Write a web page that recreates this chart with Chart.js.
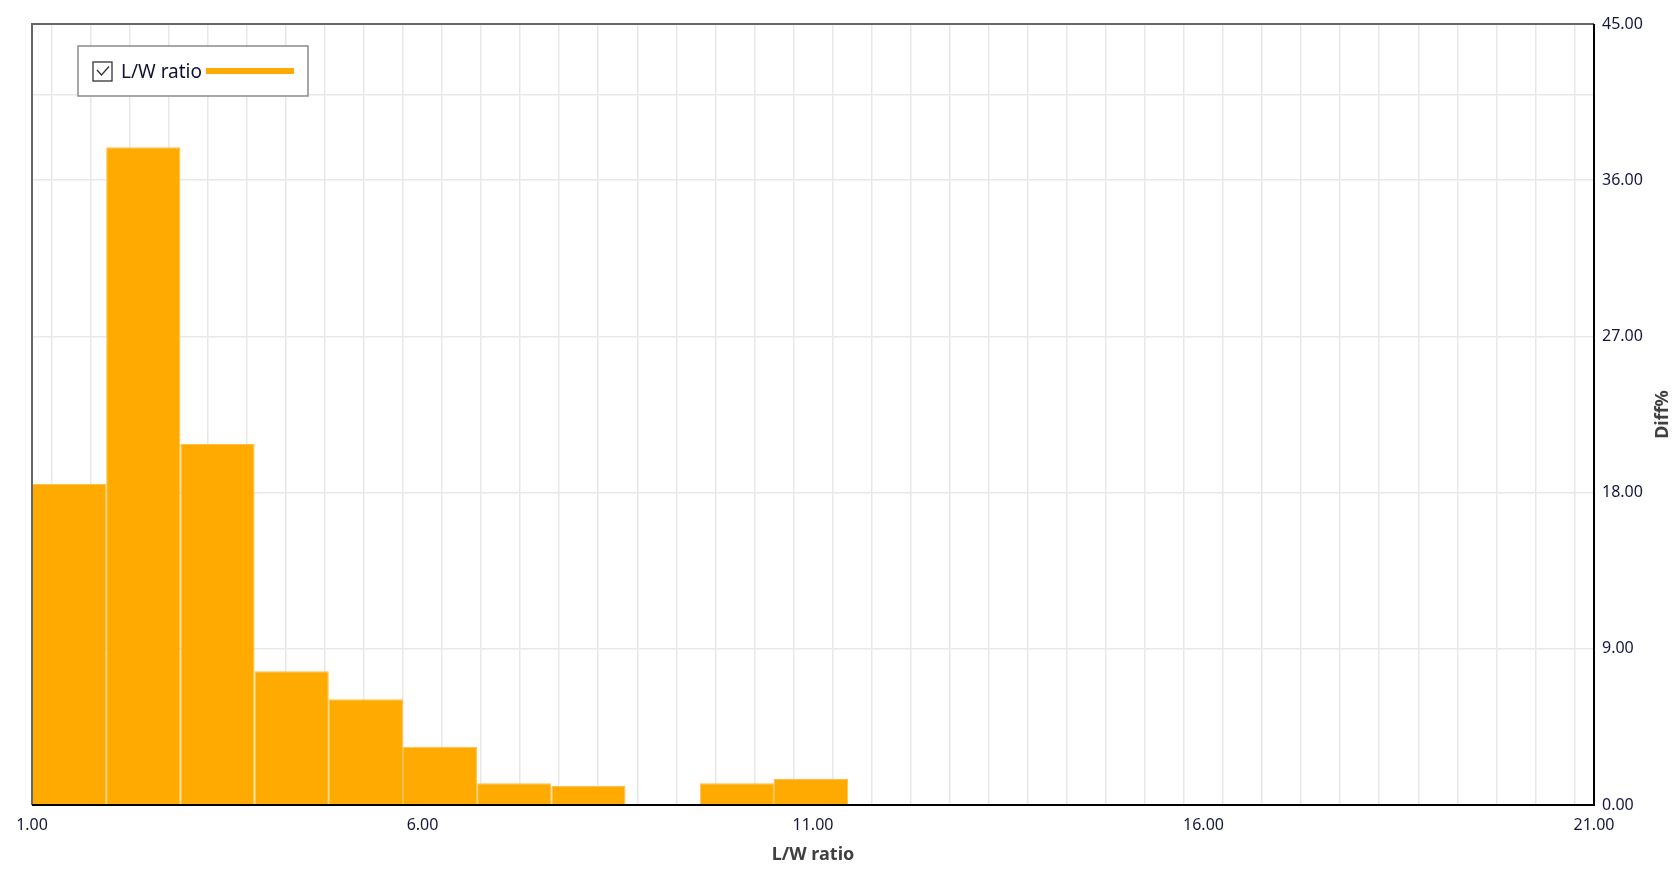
<!DOCTYPE html>
<html>
<head>
<meta charset="utf-8">
<script src="https://cdn.jsdelivr.net/npm/chart.js@4.4.1/dist/chart.umd.min.js"></script>
<style>
  html, body { margin: 0; padding: 0; background: #fff; }
  #wrap { width: 1680px; height: 872px; }
</style>
</head>
<body>
<div id="wrap"><canvas id="myChart" width="1680" height="872"></canvas></div>
<script>
// bin centres (L/W ratio), bins are 0.95 wide
var binCenters = [1.475, 2.425, 3.375, 4.325, 5.275, 6.225, 7.175, 8.125, 9.075, 10.025, 10.975];
var diffValues = [18.5, 37.9, 20.8, 7.7, 6.1, 3.35, 1.25, 1.1, 0, 1.25, 1.5];
var binWidth = 0.95;
var xGridStep = 0.5;
var xMajorTicks = [1, 6, 11, 16, 21];
var yTicks = [0, 9, 18, 27, 36, 45];
var yExtraGrid = 40.9;

var barColor = '#FFAA00';
var tickColor = '#16163f';
var fontFamily = '"Noto Sans", "Open Sans", sans-serif';

var points = binCenters.map(function (c, i) {
    return { x: c, y: diffValues[i] };
});

var framePlugin = {
    id: 'frame',
    afterDatasetsDraw: function (chart) {
        var ctx = chart.ctx;
        var a = chart.chartArea;
        ctx.save();
        // top and left lines
        ctx.strokeStyle = '#666666';
        ctx.lineWidth = 2;
        ctx.beginPath();
        ctx.moveTo(a.left, a.bottom);
        ctx.lineTo(a.left, a.top);
        ctx.lineTo(a.right, a.top);
        ctx.stroke();
        // right and bottom axes
        ctx.strokeStyle = '#000000';
        ctx.beginPath();
        ctx.moveTo(a.right, a.top);
        ctx.lineTo(a.right, a.bottom);
        ctx.lineTo(a.left, a.bottom);
        ctx.stroke();

        // legend box
        var lx = a.left + 46, ly = a.top + 22;
        ctx.fillStyle = '#ffffff';
        ctx.fillRect(lx, ly, 230, 50);
        ctx.strokeStyle = '#8a8a8a';
        ctx.lineWidth = 1.5;
        ctx.strokeRect(lx, ly, 230, 50);
        // checkbox
        ctx.strokeStyle = '#333333';
        ctx.lineWidth = 1.3;
        ctx.strokeRect(lx + 15, ly + 16, 19, 19);
        ctx.beginPath();
        ctx.moveTo(lx + 19, ly + 24);
        ctx.lineTo(lx + 23.5, ly + 29);
        ctx.lineTo(lx + 31, ly + 20.5);
        ctx.stroke();
        // text
        ctx.fillStyle = '#111133';
        ctx.font = '19px ' + fontFamily;
        ctx.textBaseline = 'middle';
        ctx.textAlign = 'left';
        ctx.fillText('L/W ratio', lx + 43, ly + 27);
        // line sample
        ctx.strokeStyle = barColor;
        ctx.lineWidth = 6;
        ctx.beginPath();
        ctx.moveTo(lx + 128, ly + 25);
        ctx.lineTo(lx + 216, ly + 25);
        ctx.stroke();

        // right axis title, reading bottom to top
        ctx.save();
        ctx.translate(a.right + 69, (a.top + a.bottom) / 2);
        ctx.rotate(-Math.PI / 2);
        ctx.fillStyle = '#404040';
        ctx.font = 'bold 18px ' + fontFamily;
        ctx.textAlign = 'center';
        ctx.textBaseline = 'middle';
        ctx.fillText('Diff%', 0, 0);
        ctx.restore();

        ctx.restore();
    }
};

var ctx = document.getElementById('myChart').getContext('2d');
var config = {
    type: 'bar',
    data: {
        datasets: [{
            label: 'L/W ratio',
            data: points,
            backgroundColor: barColor,
            borderColor: 'rgb(255, 192, 70)',
            borderWidth: 1,
            categoryPercentage: 1,
            // bar width is based on the grid step, so scale it up to the bin width
            barPercentage: binWidth / xGridStep
        }]
    },
    options: {
        responsive: false,
        animation: false,
        layout: { padding: { top: 24, left: 32, right: 0, bottom: 0 } },
        plugins: {
            legend: { display: false },
            tooltip: { enabled: false }
        },
        scales: {
            x: {
                type: 'linear',
                offset: false,
                min: 1,
                max: 21,
                grid: { color: '#e8e8e8', lineWidth: 1.5, drawTicks: false },
                border: { display: false },
                ticks: {
                    stepSize: xGridStep,
                    autoSkip: false,
                    maxRotation: 0,
                    padding: 11,
                    color: tickColor,
                    font: { family: fontFamily, size: 16 },
                    callback: function (v) {
                        return xMajorTicks.indexOf(v) >= 0 ? v.toFixed(2) : '';
                    }
                },
                title: {
                    display: true,
                    text: 'L/W ratio',
                    color: '#404040',
                    font: { family: fontFamily, size: 18, weight: 'bold' },
                    padding: { top: 4, bottom: 6 }
                },
                afterFit: function (scale) { scale.height = 67; }
            },
            y: {
                position: 'right',
                min: 0,
                max: 45,
                grid: { color: '#e8e8e8', lineWidth: 1.5, drawTicks: false },
                border: { display: false },
                ticks: {
                    padding: 8,
                    color: tickColor,
                    font: { family: fontFamily, size: 16 },
                    callback: function (v) {
                        return yTicks.indexOf(v) >= 0 ? v.toFixed(2) : '';
                    }
                },
                afterBuildTicks: function (scale) {
                    scale.ticks = yTicks.concat([yExtraGrid]).sort(function (p, q) { return p - q; })
                        .map(function (v) { return { value: v }; });
                },
                afterFit: function (scale) { scale.width = 86; }
            }
        }
    },
    plugins: [framePlugin]
};

var chart = new Chart(ctx, config);
</script>
</body>
</html>
